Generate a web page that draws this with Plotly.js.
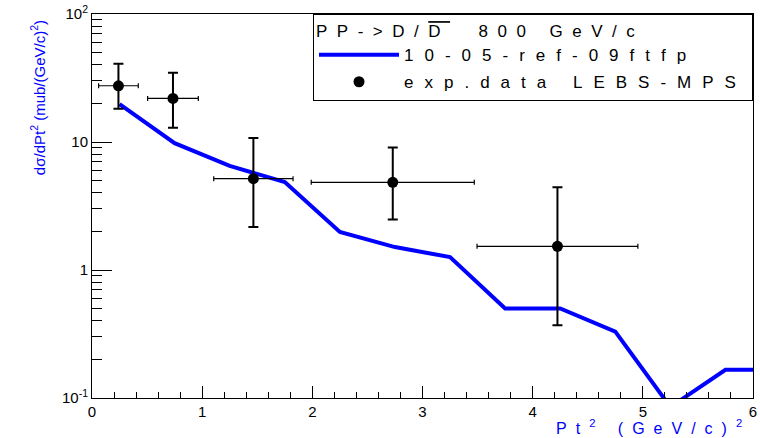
<!DOCTYPE html>
<html>
<head>
<meta charset="utf-8">
<script src="https://cdn.plot.ly/plotly-3.0.1.min.js"></script>
<style>
  html, body { margin: 0; padding: 0; background: #fff; }
  #chart { position: relative; width: 760px; height: 438px; z-index: 1; }
  #pre { position: absolute; left: 0; top: 0; opacity: 0; pointer-events: none; z-index: 0;
         font-family: 'Liberation Sans'; font-size: 17px; white-space: nowrap; }
  text.legendtitletext { letter-spacing: 9.5px; }
  text.legendtext { letter-spacing: 11px; }
  text.annotation-text[style*="16px"] { letter-spacing: 9px; }
</style>
</head>
<body>
<div id="pre">PP-&gt;D/D 800 GeV/c 10-05-ref-09ftfp exp.data LEBS-MPS d&#963;/dPt&#178; (mub/(GeV/c)&#178;) 0123456789 &#8722;</div>
<div id="chart"></div>
<script>
// Simulation curve (10-05-ref-09ftfp)
const simX = [0.25, 0.75, 1.25, 1.75, 2.25, 2.75, 3.25, 3.75, 4.25, 4.75, 5.25, 5.75, 6.25];
const simY = [19.8, 9.8, 6.5, 4.87, 1.98, 1.51, 1.26, 0.5, 0.5, 0.33, 0.085, 0.166, 0.166];

// Experimental data (LEBS-MPS)
const expX = [0.24, 0.735, 1.465, 2.73, 4.225];
const expXErr = [0.18, 0.23, 0.36, 0.74, 0.73];
const expY = [27.5, 21.9, 5.17, 4.84, 1.53];
const expYErrPlus = [13.3, 12.8, 5.6, 4.2, 2.9];
const expYErrMinus = [9.3, 9.0, 3.0, 2.36, 1.16];

// Labels
const legendHeader = 'PP->D/<span style="text-decoration:overline">D</span>\u00a0\u00a0800 GeV/c';
const simName = '10-05-ref-09ftfp';
const expName = 'exp.data LEBS-MPS';
const yTickVals = [0.1, 1, 10, 100];
const yTickText = ['10<sup>-1</sup>', '1', '10', '10<sup>2</sup>'];
const yTitle = 'd\u03c3/dPt<sup>2</sup> (mub/(GeV/c)<sup>2</sup>)';
const xTitle = 'Pt<sup>2</sup> (GeV/c)<sup>2</sup>';

const minorY = [];
for (let d = -1; d < 2; d++) for (let k = 2; k <= 9; k++) minorY.push(k * Math.pow(10, d));

const FONT = 'Liberation Sans';
const BLUE = '#0000ff';

const traces = [
  {
    x: simX, y: simY, type: 'scatter', mode: 'lines', name: simName,
    legendgroup: 'a',
    line: { color: BLUE, width: 4 }
  },
  {
    x: expX, y: expY, type: 'scatter', mode: 'markers', name: expName,
    legendgroup: 'b',
    marker: { color: '#000', size: 11, symbol: 'circle' },
    error_x: { type: 'data', array: expXErr, symmetric: true, color: '#000', thickness: 1.2, width: 2.5 },
    error_y: { type: 'data', array: expYErrPlus, arrayminus: expYErrMinus, symmetric: false, color: '#000', thickness: 2, width: 5 }
  }
];

const layout = {
  width: 760, height: 438,
  margin: { l: 92, r: 7, t: 14, b: 40, pad: 0 },
  font: { family: FONT, color: '#000', size: 15 },
  showlegend: true,
  legend: {
    x: 1, xanchor: 'right', y: 1, yanchor: 'top',
    bgcolor: '#fff', bordercolor: '#000', borderwidth: 1,
    font: { family: FONT, size: 17, color: '#000' },
    title: { text: legendHeader, font: { family: FONT, size: 17, color: '#000' } },
    itemwidth: 80,
    traceorder: 'grouped', tracegroupgap: 2
  },
  xaxis: {
    range: [0, 6],
    showgrid: false, zeroline: false,
    showline: true, linecolor: '#000', mirror: true,
    ticks: 'inside', ticklen: 12, tickwidth: 1, tickcolor: '#000',
    dtick: 1,
    tickfont: { family: FONT, size: 15, color: '#000' },
    minor: { ticks: 'inside', ticklen: 6, dtick: 0.2 }
  },
  yaxis: {
    type: 'log', range: [-1, 2],
    showgrid: false, zeroline: false,
    showline: true, linecolor: '#000', mirror: true,
    ticks: 'inside', ticklen: 20, tickwidth: 1, tickcolor: '#000',
    tickmode: 'array', tickvals: yTickVals, ticktext: yTickText,
    tickfont: { family: FONT, size: 15, color: '#000' },
    minor: { ticks: 'inside', ticklen: 10, tickwidth: 1, tickcolor: '#000', tickmode: 'array', tickvals: minorY, showgrid: false }
  },
  annotations: [
    {
      text: yTitle, xref: 'paper', yref: 'paper',
      x: -0.082, xanchor: 'center', y: 0.99, yanchor: 'top',
      textangle: -90, showarrow: false,
      font: { family: FONT, size: 15, color: BLUE }
    },
    {
      text: xTitle, xref: 'paper', yref: 'paper',
      x: 1.0, xanchor: 'right', y: -0.075, yanchor: 'middle',
      showarrow: false,
      font: { family: FONT, size: 16, color: BLUE }
    }
  ]
};

function draw() {
  return Plotly.newPlot('chart', traces, layout, { staticPlot: true });
}

draw();
document.fonts.ready.then(function () {
  setTimeout(function () {
    Plotly.purge('chart');
    draw();
  }, 120);
});
</script>
</body>
</html>
